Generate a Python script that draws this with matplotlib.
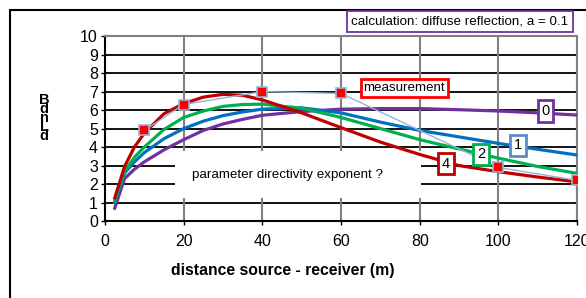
import matplotlib.pyplot as plt
from matplotlib.patches import Rectangle

plt.rcParams["font.family"] = ["Liberation Sans", "DejaVu Sans"]

# distances (m) at which the curves were read
dist = [2.5, 5, 7.5, 10, 15, 20, 25, 30, 35, 40, 50, 60, 70, 80, 90, 100, 110, 120]

# calculated level curves, one per directivity exponent
exp_0 = [0.7, 2.3, 2.8, 3.2, 3.85, 4.4, 4.9, 5.25, 5.5, 5.72, 5.92, 6.05, 6.08, 6.08, 6.02, 5.95, 5.85, 5.73]
exp_1 = [1.0, 2.6, 3.2, 3.7, 4.45, 5.0, 5.4, 5.7, 5.9, 6.05, 6.12, 5.85, 5.35, 4.9, 4.55, 4.2, 3.88, 3.57]
exp_2 = [1.08, 2.67, 3.45, 4.0, 4.95, 5.6, 5.95, 6.2, 6.3, 6.32, 6.1, 5.6, 5.0, 4.4, 3.9, 3.4, 2.95, 2.58]
exp_4 = [1.25, 2.95, 4.0, 4.75, 5.8, 6.35, 6.7, 6.85, 6.8, 6.55, 5.85, 5.05, 4.27, 3.6, 3.0, 2.67, 2.38, 2.12]

# measured values
meas_x = [10, 20, 40, 60, 100, 120]
meas_y = [4.9, 6.3, 7.0, 6.9, 2.9, 2.2]

RED = "#c00000"
GREEN = "#00b050"
BLUE = "#0070c0"
PURPLE = "#7030a0"
LIGHT = "#95b3d7"

fig = plt.figure(figsize=(5.86, 2.98), dpi=100)
ax = fig.add_axes([0.179, 0.258, 0.806, 0.621])

ax.set_xlim(0, 120)
ax.set_ylim(0, 10)
ax.set_xticks(range(0, 121, 20))
ax.set_yticks(range(0, 11))
ax.tick_params(labelsize=11.5, length=3, width=1, direction="out", pad=2)
ax.tick_params(axis="x", pad=6)

for y in range(1, 10):
    ax.axhline(y, color="black", lw=1.3, zorder=1)
for x in range(20, 121, 20):
    ax.axvline(x, color="#808080", lw=1.5, zorder=1)

for s in ["left", "bottom"]:
    ax.spines[s].set_linewidth(1.5)
for s in ["top", "right"]:
    ax.spines[s].set_color("#808080")
    ax.spines[s].set_linewidth(1.5)

# white patch behind the question text
ax.add_patch(Rectangle((17.8, 1.25), 62.5, 2.55, facecolor="white", edgecolor="none", zorder=2))
ax.text(46.5, 2.5, "parameter directivity exponent ?", fontsize=9.6, ha="center", va="center", zorder=3)

ax.plot(dist, exp_0, color=PURPLE, lw=2.3, zorder=4)
ax.plot(dist, exp_1, color=BLUE, lw=2.3, zorder=4)
ax.plot(dist, exp_2, color=GREEN, lw=2.3, zorder=4)
ax.plot(dist, exp_4, color=RED, lw=2.3, zorder=4)
ax.plot(meas_x, meas_y, color=LIGHT, lw=1, marker="s", ms=7,
        mfc="red", mec=LIGHT, mew=1.2, zorder=5)

def tag(x, y, s, ec, lw=2, size=10.5, pad=0.25):
    ax.text(x, y, s, fontsize=size, ha="center", va="center", zorder=6,
            bbox=dict(boxstyle=f"square,pad={pad}", fc="white", ec=ec, lw=lw))

tag(112, 5.95, "0", PURPLE)
tag(105, 4.1, "1", "#5b8bc6")
tag(95.6, 3.6, "2", GREEN)
tag(86.7, 3.1, "4", RED)
tag(76, 7.2, "measurement", "red", size=9.6, pad=0.2)

fig.text(0.785, 0.928, "calculation: diffuse reflection, a = 0.1", fontsize=9.6,
         ha="center", va="center",
         bbox=dict(boxstyle="square,pad=0.35", fc="white", ec=PURPLE, lw=1.3))

fig.text(283 / 586, 1 - 270 / 298, "distance source - receiver (m)", fontsize=11.3,
         fontweight="bold", ha="center", va="center")
fig.text(44 / 586, 1 - 118 / 298, "B\nd\nn\nL\nd", fontsize=10.5, fontweight="bold",
         ha="center", va="center", linespacing=0.55)

# outer frame of the chart area
fig.patches.append(Rectangle((10 / 586, -0.1), 1.2, 1 - 10 / 298 + 0.1,
                             transform=fig.transFigure, fill=False,
                             ec="black", lw=1.5))

fig.savefig("out.png", dpi=100)
